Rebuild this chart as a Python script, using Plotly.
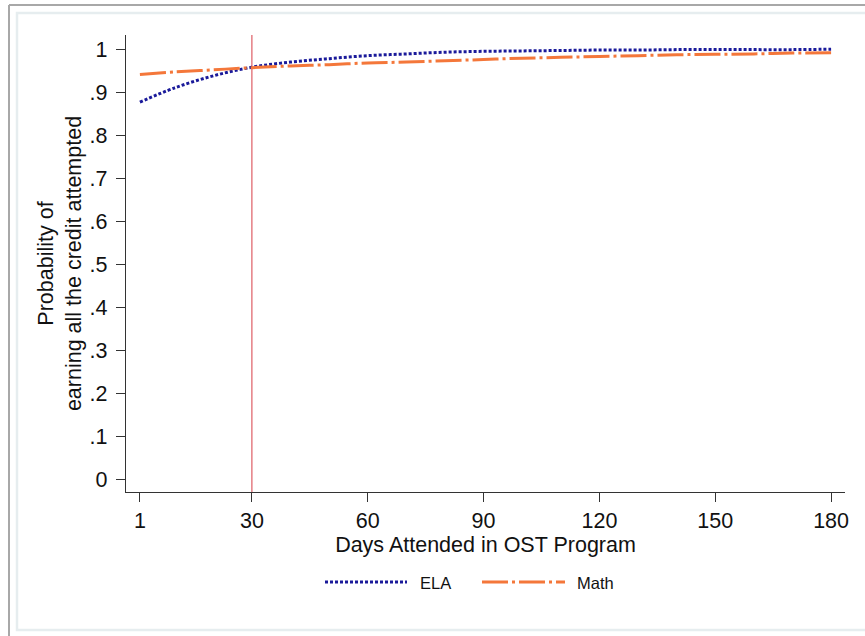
import plotly.graph_objects as go

days = [1, 10, 20, 30, 40, 50, 60, 70, 80, 90, 100, 110, 120, 130, 140, 150, 160, 170, 180]
ela = [0.877, 0.910, 0.938, 0.958, 0.970, 0.978, 0.985, 0.989, 0.993, 0.995, 0.996, 0.997,
       0.998, 0.998, 0.999, 0.999, 0.999, 0.999, 1.000]
math = [0.941, 0.947, 0.952, 0.957, 0.961, 0.964, 0.968, 0.970, 0.973, 0.976, 0.979, 0.981,
        0.983, 0.985, 0.987, 0.988, 0.989, 0.991, 0.992]
cutoff_day = 30
x_ticks = [1, 30, 60, 90, 120, 150, 180]
y_tickvals = [0, 0.1, 0.2, 0.3, 0.4, 0.5, 0.6, 0.7, 0.8, 0.9, 1.0]
y_ticktext = ["0", ".1", ".2", ".3", ".4", ".5", ".6", ".7", ".8", ".9", "1"]
series_names = ["ELA", "Math"]

ELA_COLOR = "#1a1a9a"
MATH_COLOR = "#f4773a"
ELA_DASH = "3px,2px"
MATH_DASH = "26px,4px,3px,4px"
FONT = "Arial, Liberation Sans, sans-serif"

fig = go.Figure()
fig.add_trace(go.Scatter(x=days, y=ela, mode="lines", name=series_names[0],
                         line=dict(color=ELA_COLOR, width=3, dash=ELA_DASH, shape="spline"),
                         showlegend=False))
fig.add_trace(go.Scatter(x=days, y=math, mode="lines", name=series_names[1],
                         line=dict(color=MATH_COLOR, width=3, dash=MATH_DASH, shape="spline"),
                         showlegend=False))

# body margin is removed by post_script, so figure coordinates = page coordinates
W, H = 865, 636
L, T = 126, 35
R = W - 845
B = H - 492
pw, ph = W - L - R, H - T - B


def px(xp):
    return (xp - L) / pw


def py(yp):
    return (H - B - yp) / ph


shapes = [
    # vertical reference line
    dict(type="line", xref="x", yref="paper", x0=cutoff_day, x1=cutoff_day, y0=0, y1=1,
         line=dict(color="#e06a70", width=1.3), layer="below"),
    # outer frame
    dict(type="line", xref="paper", yref="paper", x0=px(9), x1=px(9), y0=py(5), y1=py(640),
         line=dict(color="#a8a8a8", width=2)),
    dict(type="line", xref="paper", yref="paper", x0=px(9), x1=px(870), y0=py(5), y1=py(5),
         line=dict(color="#a8a8a8", width=2)),
    # inner light frame
    dict(type="rect", xref="paper", yref="paper", x0=px(17), x1=px(875), y0=py(13), y1=py(630),
         line=dict(color="#e6edef", width=2.5)),
    # legend samples
    dict(type="line", xref="paper", yref="paper", x0=px(325), x1=px(407), y0=py(582), y1=py(582),
         line=dict(color=ELA_COLOR, width=3, dash=ELA_DASH)),
    dict(type="line", xref="paper", yref="paper", x0=px(482), x1=px(565), y0=py(582), y1=py(582),
         line=dict(color=MATH_COLOR, width=3, dash=MATH_DASH)),
]

annotations = [
    dict(xref="paper", yref="paper", x=px(418), y=py(583), text=series_names[0], showarrow=False,
         xanchor="left", yanchor="middle", font=dict(family=FONT, size=16.5, color="#111")),
    dict(xref="paper", yref="paper", x=px(575), y=py(583), text=series_names[1], showarrow=False,
         xanchor="left", yanchor="middle", font=dict(family=FONT, size=16.5, color="#111")),
]

fig.update_layout(
    width=W, height=H,
    margin=dict(l=L, r=R, t=T, b=B, autoexpand=False),
    paper_bgcolor="white", plot_bgcolor="white",
    font=dict(family=FONT, size=21.5, color="#111"),
    shapes=shapes, annotations=annotations,
    showlegend=False,
    xaxis=dict(
        range=[-2.6, 183.6], tickvals=x_ticks, ticks="outside", ticklen=9, tickwidth=1.3,
        tickcolor="#333", showline=True, linecolor="#333", linewidth=1.3, showgrid=False,
        zeroline=False, tickfont=dict(size=21.5), automargin=False,
        title=dict(text="Days Attended in OST Program", font=dict(size=21.5), standoff=2),
    ),
    yaxis=dict(
        range=[-0.03, 1.033], tickvals=y_tickvals, ticktext=y_ticktext, ticks="outside",
        ticklen=9, tickwidth=1.3, tickcolor="#333", showline=True, linecolor="#333",
        linewidth=1.3, showgrid=False, zeroline=False, tickfont=dict(size=21.5), automargin=False,
        ticklabelstandoff=4,
        title=dict(text="Probability of<br>earning all the credit attempted", font=dict(size=21.5),
                   standoff=2),
    ),
)

fig.write_html("out.html", config={"displayModeBar": False},
               post_script="document.body.style.margin='0';")
